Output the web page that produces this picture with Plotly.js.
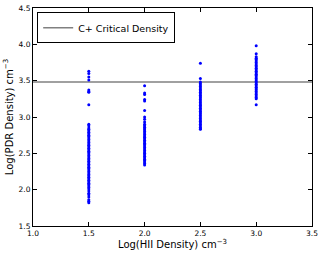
<!DOCTYPE html>
<html>
<head>
<meta charset="utf-8">
<script src="https://cdn.plot.ly/plotly-3.0.1.min.js"></script>
<style>html,body{margin:0;padding:0;background:#fff;}#chart{width:322px;height:254px;}</style>
</head>
<body>
<div id="chart"></div>
<script>
var hiiLevels = [1.5, 2.0, 2.5, 3.0];
var pdr15 = [3.63, 3.60, 3.55, 3.51, 3.37, 3.35, 3.34, 3.17, 2.90, 2.88, 2.85, 2.83, 2.81, 2.79, 2.77, 2.75, 2.73, 2.71, 2.69, 2.67, 2.65, 2.63, 2.61, 2.59, 2.57, 2.55, 2.53, 2.51, 2.49, 2.47, 2.45, 2.43, 2.41, 2.39, 2.37, 2.35, 2.33, 2.31, 2.29, 2.27, 2.25, 2.23, 2.21, 2.19, 2.17, 2.15, 2.13, 2.11, 2.09, 2.07, 2.05, 2.03, 2.01, 1.98, 1.95, 1.93, 1.90, 1.86, 1.84, 1.82];
var pdr20 = [3.43, 3.33, 3.31, 3.24, 3.22, 3.09, 3.00, 2.97, 2.93, 2.90, 2.88, 2.86, 2.84, 2.82, 2.80, 2.78, 2.76, 2.74, 2.72, 2.70, 2.68, 2.66, 2.64, 2.62, 2.60, 2.58, 2.56, 2.54, 2.52, 2.50, 2.48, 2.46, 2.44, 2.42, 2.40, 2.38, 2.36, 2.34];
var pdr25 = [3.74, 3.53, 3.48, 3.46, 3.44, 3.42, 3.40, 3.38, 3.36, 3.34, 3.32, 3.30, 3.28, 3.26, 3.24, 3.22, 3.20, 3.18, 3.16, 3.14, 3.12, 3.10, 3.08, 3.06, 3.04, 3.02, 3.00, 2.98, 2.96, 2.94, 2.92, 2.90, 2.88, 2.86, 2.84, 2.83];
var pdr30 = [3.98, 3.87, 3.83, 3.81, 3.79, 3.77, 3.75, 3.73, 3.71, 3.69, 3.67, 3.65, 3.63, 3.61, 3.59, 3.57, 3.55, 3.53, 3.51, 3.49, 3.47, 3.45, 3.43, 3.41, 3.39, 3.37, 3.35, 3.33, 3.31, 3.29, 3.27, 3.25, 3.17];
var criticalDensity = 3.48;
var xRange = [1.0, 3.5];
var tickVals = [1.0, 1.5, 2.0, 2.5, 3.0, 3.5];
var yTickVals = [1.5, 2.0, 2.5, 3.0, 3.5, 4.0, 4.5];

var xs = [], ys = [];
[pdr15, pdr20, pdr25, pdr30].forEach(function(arr, i){
  arr.forEach(function(v){ xs.push(hiiLevels[i]); ys.push(v); });
});

var traces = [
  {x: xRange, y: [criticalDensity, criticalDensity], mode: 'lines', name: 'C+ Critical Density',
   line: {color: '#808080', width: 1.5}},
  {x: xs, y: ys, mode: 'markers', showlegend: false,
   marker: {color: '#0000ff', size: 3, line: {width: 0}}}
];

var axFont = {family: 'DejaVu Sans', size: 7.5, color: '#000'};
var titleFont = {family: 'DejaVu Sans', size: 10, color: '#000'};
var layout = {
  width: 322, height: 254,
  margin: {l: 33, r: 10, t: 8, b: 28},
  paper_bgcolor: '#fff', plot_bgcolor: '#fff',
  showlegend: true,
  legend: {x: 0.015, y: 0.98, xanchor: 'left', yanchor: 'top', bgcolor: '#fff',
    bordercolor: '#000', borderwidth: 1, font: {family: 'DejaVu Sans', size: 9.5, color: '#000'},
    itemwidth: 30, tracegroupgap: 0},
  xaxis: {range: xRange, tickvals: tickVals, ticktext: tickVals.map(function(v){return v.toFixed(1);}),
    ticks: 'inside', ticklen: 4, tickcolor: '#000', showline: true, linecolor: '#000', linewidth: 1,
    mirror: 'ticks', showgrid: false, zeroline: false, tickfont: axFont,
    title: {text: 'Log(HII Density) cm<sup>\u22123</sup>', font: titleFont, standoff: 3}},
  yaxis: {range: [1.5, 4.5], tickvals: yTickVals, ticktext: yTickVals.map(function(v){return v.toFixed(1);}),
    ticks: 'inside', ticklen: 4, tickcolor: '#000', showline: true, linecolor: '#000', linewidth: 1,
    mirror: 'ticks', showgrid: false, zeroline: false, tickfont: axFont,
    title: {text: 'Log(PDR Density) cm<sup>\u22123</sup>', font: titleFont, standoff: 3}}
};
Plotly.newPlot('chart', traces, layout, {displayModeBar: false, staticPlot: true});
</script>
</body>
</html>
